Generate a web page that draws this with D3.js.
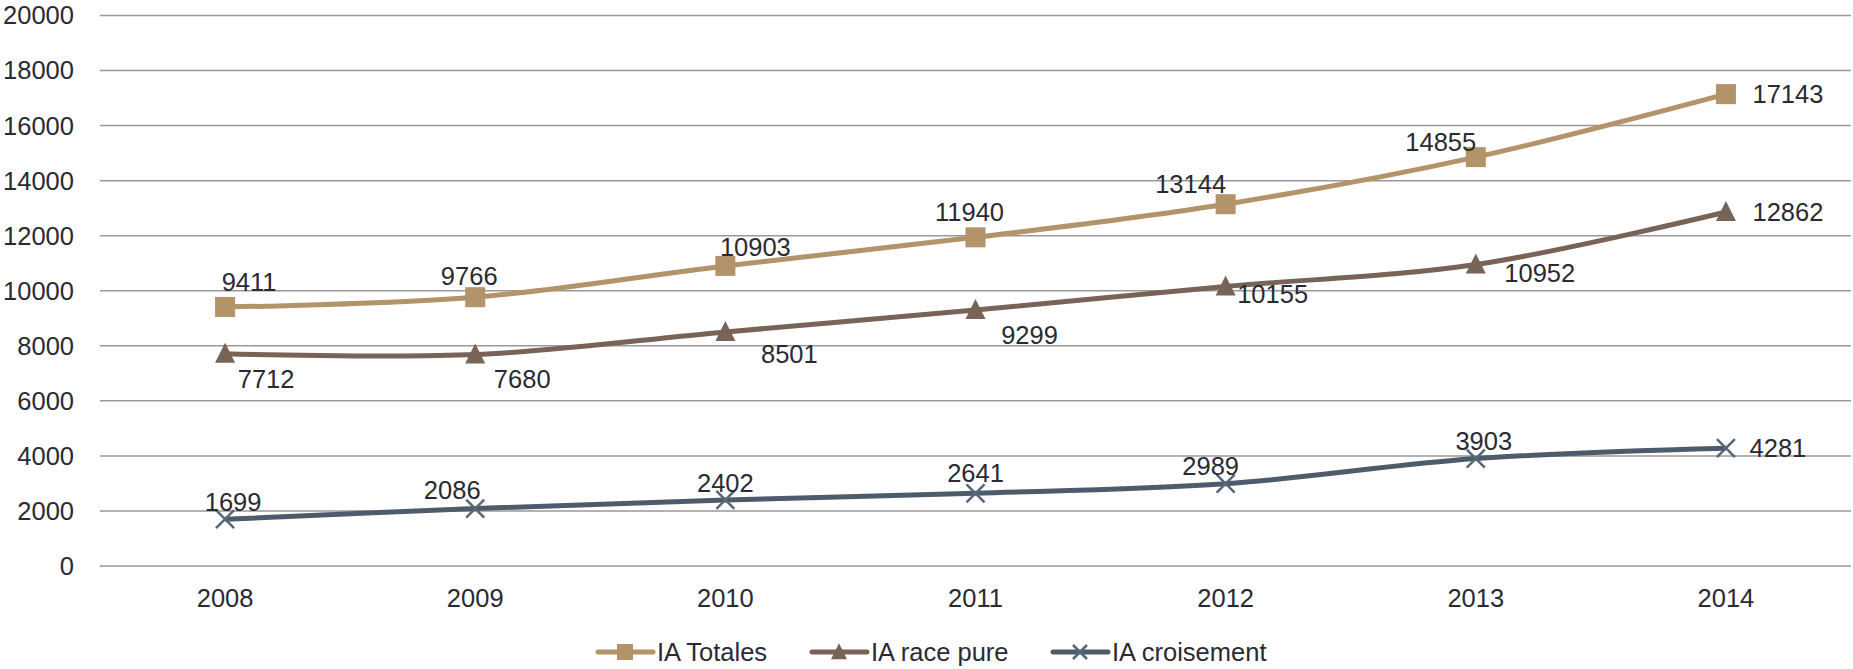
<!DOCTYPE html>
<html>
<head>
<meta charset="utf-8">
<script src="https://cdn.jsdelivr.net/npm/d3@7"></script>
<style>
  body { margin: 0; background: #fff; }
  svg { display: block; font-family: "Liberation Sans", Arial, sans-serif; }
</style>
</head>
<body>
<div id="chart"></div>
<script>
// data
const years = ['2008', '2009', '2010', '2011', '2012', '2013', '2014'];
const iaTotales = [9411, 9766, 10903, 11940, 13144, 14855, 17143];
const iaRacePure = [7712, 7680, 8501, 9299, 10155, 10952, 12862];
const iaCroisement = [1699, 2086, 2402, 2641, 2989, 3903, 4281];
const yTicks = [0, 2000, 4000, 6000, 8000, 10000, 12000, 14000, 16000, 18000, 20000];
const seriesNames = ['IA Totales', 'IA race pure', 'IA croisement'];

// label placement (Excel put them by hand), offsets in px from the point
const labelOffsets = [
  [[24, -25], [-6, -21], [30, -19], [-6, -25], [-35, -20], [-35, -15], [62, 0]],
  [[41, 25], [47, 24], [64, 22], [54, 25], [47, 8], [64, 9], [62, 0]],
  [[8, -17], [-23, -19], [0, -17], [0, -20], [-15, -18], [8, -17], [52, 0]]
];

const width = 1853, height = 669;
const colors = ['#b39369', '#776457', '#4d5c6b'];
const markers = ['square', 'triangle', 'cross'];
const textColor = '#2a2a33';

const svg = d3.select('#chart').append('svg')
  .attr('width', width)
  .attr('height', height);

const x = d3.scaleBand().domain(years).range([100, 1851]);
const y = d3.scaleLinear().domain([0, 20000]).range([566, 15.5]);
const cx = d => x(d) + x.bandwidth() / 2;

// grid
svg.append('g')
  .selectAll('line')
  .data(yTicks)
  .enter()
  .append('line')
  .attr('x1', 100)
  .attr('x2', 1851)
  .attr('y1', d => y(d))
  .attr('y2', d => y(d))
  .attr('stroke', '#999')
  .attr('stroke-width', 1.5);

// y axis labels
svg.append('g')
  .selectAll('text')
  .data(yTicks)
  .enter()
  .append('text')
  .attr('x', 74)
  .attr('y', d => y(d))
  .attr('dy', '0.35em')
  .attr('text-anchor', 'end')
  .attr('font-size', 25.5)
  .attr('fill', textColor)
  .text(d => d);

// x axis labels
svg.append('g')
  .selectAll('text')
  .data(years)
  .enter()
  .append('text')
  .attr('x', d => cx(d))
  .attr('y', 598)
  .attr('dy', '0.35em')
  .attr('text-anchor', 'middle')
  .attr('font-size', 25.5)
  .attr('fill', textColor)
  .text(d => d);

function drawMarker(g, type, color, px, py, size) {
  if (type === 'square') {
    g.append('rect')
      .attr('x', px - size / 2)
      .attr('y', py - size / 2)
      .attr('width', size)
      .attr('height', size)
      .attr('fill', color);
  } else if (type === 'triangle') {
    const h = size;
    g.append('path')
      .attr('d', `M${px},${py - h * 0.55} L${px + size / 2},${py + h * 0.45} L${px - size / 2},${py + h * 0.45} Z`)
      .attr('fill', color);
  } else {
    const r = size / 2;
    g.append('path')
      .attr('d', `M${px - r},${py - r} L${px + r},${py + r} M${px - r},${py + r} L${px + r},${py - r}`)
      .attr('stroke', '#56677a')
      .attr('stroke-width', 2.5)
      .attr('fill', 'none');
  }
}

const allSeries = [iaTotales, iaRacePure, iaCroisement];
// excel "smoothed line"
const line = d3.line()
  .x((d, i) => cx(years[i]))
  .y(d => y(d))
  .curve(d3.curveCatmullRom.alpha(0.5));

allSeries.forEach((values, s) => {
  const g = svg.append('g').attr('class', 'series');
  g.append('path')
    .datum(values)
    .attr('d', line)
    .attr('fill', 'none')
    .attr('stroke', colors[s])
    .attr('stroke-width', 5)
    .attr('stroke-linejoin', 'round');
  values.forEach((v, i) => {
    drawMarker(g, markers[s], colors[s], cx(years[i]), y(v), markers[s] === 'cross' ? 18 : 20);
  });
  g.selectAll('text.label')
    .data(values)
    .enter()
    .append('text')
    .attr('class', 'label')
    .attr('x', (d, i) => cx(years[i]) + labelOffsets[s][i][0])
    .attr('y', (d, i) => y(d) + labelOffsets[s][i][1])
    .attr('dy', '0.35em')
    .attr('text-anchor', 'middle')
    .attr('font-size', 25.5)
    .attr('fill', textColor)
    .text(d => d);
});

// legend
const legendX = [598, 812, 1053];
const legend = svg.append('g').attr('class', 'legend');
seriesNames.forEach((name, s) => {
  const lx = legendX[s], ly = 652;
  legend.append('line')
    .attr('x1', lx).attr('x2', lx + 55)
    .attr('y1', ly).attr('y2', ly)
    .attr('stroke', colors[s])
    .attr('stroke-width', 5)
    .attr('stroke-linecap', 'round');
  drawMarker(legend, markers[s], colors[s], lx + 27, ly, markers[s] === 'cross' ? 14 : 16);
  legend.append('text')
    .attr('x', lx + 59)
    .attr('y', ly)
    .attr('dy', '0.35em')
    .attr('font-size', 25.5)
    .attr('fill', textColor)
    .text(name);
});
</script>
</body>
</html>
